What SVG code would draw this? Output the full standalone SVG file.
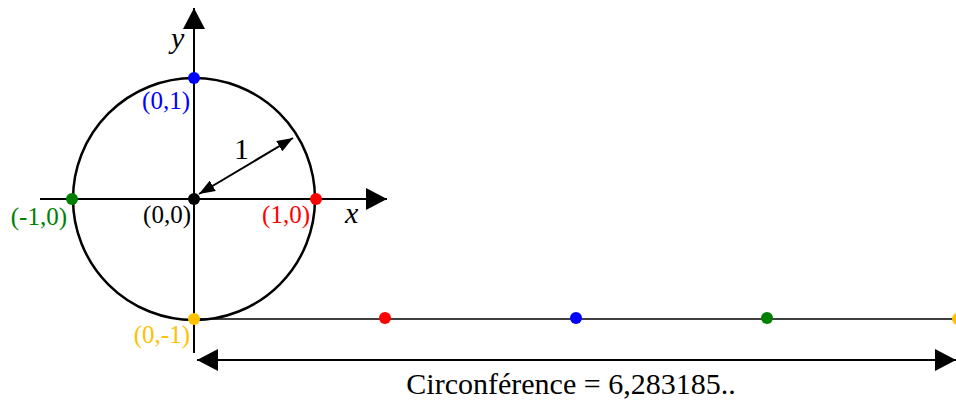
<svg xmlns="http://www.w3.org/2000/svg" width="956" height="400" viewBox="0 0 956 400">
<style>
.ax{stroke:#000;stroke-width:2;fill:none}
.t{font-family:"Liberation Serif","Times New Roman",serif;font-size:25px}
.L{font-family:"Liberation Serif","Times New Roman",serif;font-size:30px}
.i{font-style:italic}
</style>
<defs>
<marker id="big" markerUnits="userSpaceOnUse" markerWidth="22" markerHeight="22" refX="21" refY="11" orient="auto-start-reverse" viewBox="0 0 22 22">
<path d="M0,0 L21,11 L0,22 z" fill="#000"/>
</marker>
<marker id="sm" markerUnits="userSpaceOnUse" markerWidth="16" markerHeight="12" refX="16" refY="6" orient="auto-start-reverse" viewBox="0 0 16 12">
<path d="M0,0 L16,6 L0,12 z" fill="#000"/>
</marker>
</defs>
<rect width="956" height="400" fill="#fff"/>
<g id="connectors">
<line class="ax" x1="194" y1="353" x2="194" y2="8" marker-end="url(#big)"/>
<line class="ax" x1="40" y1="199" x2="387" y2="199" marker-end="url(#big)"/>
<line class="ax" x1="199" y1="194" x2="293" y2="138" marker-start="url(#sm)" marker-end="url(#sm)"/>
<line x1="194" y1="319" x2="956" y2="319" stroke="#000" stroke-width="1.5"/>
<line class="ax" x1="197" y1="360" x2="956" y2="360" marker-start="url(#big)" marker-end="url(#big)"/>
</g>
<g id="circle">
<circle cx="194" cy="199" r="121" fill="none" stroke="#000" stroke-width="2.5"/>
</g>
<g id="axis-labels">
<text class="L i" x="171" y="48">y</text>
<text class="L i" x="345" y="223">x</text>
<text class="L" x="234" y="159">1</text>
</g>
<g id="p00">
<circle cx="194" cy="199" r="6" fill="#000"/>
<text class="t" x="191" y="223" text-anchor="end">(0,0)</text>
</g>
<g id="p10">
<circle cx="316" cy="199" r="6" fill="#f00"/>
<text class="t" x="310" y="223" text-anchor="end" fill="#f00">(1,0)</text>
</g>
<g id="p01">
<circle cx="194" cy="78" r="6" fill="#00f"/>
<text class="t" x="190" y="109" text-anchor="end" fill="#00f">(0,1)</text>
</g>
<g id="pm10">
<circle cx="72" cy="199" r="6" fill="#008000"/>
<text class="t" x="67" y="225" text-anchor="end" fill="#008000">(-1,0)</text>
</g>
<g id="p0m1">
<circle cx="194" cy="319" r="6" fill="#ffc000"/>
<text class="t" x="190" y="343" text-anchor="end" fill="#ffc000">(0,-1)</text>
</g>
<g id="unrolled">
<circle cx="385" cy="318" r="6" fill="#f00"/>
<circle cx="576" cy="318" r="6" fill="#00f"/>
<circle cx="767" cy="318" r="6" fill="#008000"/>
<circle cx="958" cy="319" r="6" fill="#ffc000"/>
</g>
<g id="circumference">
<text class="L" x="571" y="394" text-anchor="middle">Circonférence = 6,283185..</text>
</g>
</svg>
